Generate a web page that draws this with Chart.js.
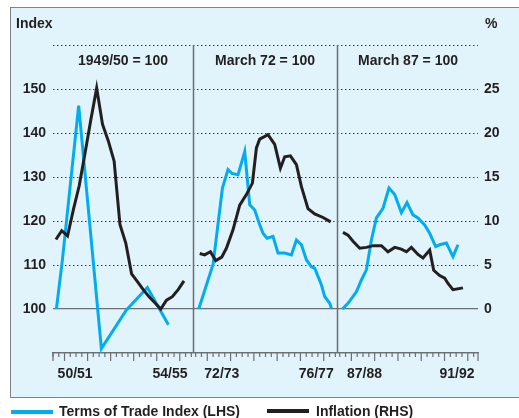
<!DOCTYPE html>
<html>
<head>
<meta charset="utf-8">
<script src="https://cdn.jsdelivr.net/npm/chart.js@4.4.1/dist/chart.umd.min.js"></script>
<style>
	html, body { margin: 0; padding: 0; background: #fff; overflow: hidden; }
	body { width: 100%; height: 418px; position: relative; font: bold 14px "Liberation Sans", Arial, sans-serif; color: #231f20; }
	#frame { position: absolute; left: 10px; top: 7px; width: 700px; height: 391px; box-sizing: border-box; background: #e1f3fb; border-top: 1.5px solid #808285; border-left: 1.5px solid #808285; border-bottom: 1.5px solid #808285; }
	#chart { position: absolute; left: 0; top: 0; }
	.txt { position: absolute; line-height: 16px; white-space: nowrap; }
	.head { width: 150px; text-align: center; }
	.key { position: absolute; width: 42px; height: 4px; }
</style>
</head>
<body>
<div id="frame"></div>
<canvas id="chart" width="519" height="418"></canvas>
<div class="txt" style="left:16px;top:15px">Index</div>
<div class="txt" style="left:485px;top:15px">%</div>
<div class="txt head" style="left:48px;top:52px">1949/50 = 100</div>
<div class="txt head" style="left:190px;top:52px">March 72 = 100</div>
<div class="txt head" style="left:333px;top:52px">March 87 = 100</div>
<div class="key" style="left:11px;top:410px;background:#00aeef"></div>
<div class="txt" style="left:59px;top:403px">Terms of Trade Index (LHS)</div>
<div class="key" style="left:267px;top:409px;background:#231f20"></div>
<div class="txt" style="left:316px;top:403px">Inflation (RHS)</div>
<script>
'use strict';

/*================ Data ================*/

// x positions are quarters along the broken time axis (3 panels of ~24 quarters)

// Panel 1: 1949/50 = 100
var tradeQ1 = [0.58, 1.6, 4.41, 8.31, 12.61, 16.21, 19.82];
var trade1 = [100, 111, 146.2, 91.0, 99.8, 104.9, 96.4];
var inflQ1 = [0.5, 1.5, 2.5, 3.5, 4.5, 5.5, 6.5, 7.5, 8.5, 9.5, 10.5, 11.5, 12.5, 13.5, 14.5, 15.5, 16.5, 17.5, 18.5, 19.5, 20.5, 21.5, 22.5];
var infl1 = [7.9, 8.9, 8.3, 11.3, 14.0, 17.7, 21.5, 25.1, 21.0, 19.1, 16.8, 9.6, 7.5, 4.0, 3.1, 2.2, 1.4, 0.7, 0.0, 1.0, 1.4, 2.2, 3.2];

// Panel 2: March 72 = 100
var tradeQ2 = [25.03, 27.5, 29.1, 30.06, 30.75, 31.78, 32.93, 33.79, 34.65, 35.38, 36.07, 36.76, 37.79, 38.65, 39.8, 40.95, 41.81, 42.67, 43.52, 44.38, 44.95, 46.1, 46.67, 47.53, 47.82];
var trade2 = [100, 110.2, 127.5, 131.7, 130.8, 130.5, 135.8, 123.7, 122.5, 119.6, 117.2, 116.1, 116.5, 112.7, 112.7, 112.3, 115.7, 114.6, 111.2, 109.6, 109.3, 105.5, 102.8, 101.3, 100.2];
var inflQ2 = [25.2, 26.05, 27.04, 27.95, 28.98, 29.78, 30.92, 32.07, 33.22, 34.25, 34.94, 35.5, 36.93, 38.08, 39.06, 39.8, 40.78, 41.81, 42.67, 43.8, 44.95, 46.38, 47.7];
var infl2 = [6.3, 6.15, 6.5, 5.5, 5.9, 6.9, 9.0, 11.8, 13.0, 14.3, 18.3, 19.3, 19.8, 18.7, 16.0, 17.3, 17.4, 16.4, 13.9, 11.4, 10.8, 10.4, 9.9];

// Panel 3: March 87 = 100
var tradeQ3 = [49.71, 50.67, 52.11, 52.97, 53.83, 54.69, 55.55, 56.68, 57.71, 58.69, 59.84, 60.8, 61.83, 62.69, 63.84, 64.7, 65.73, 66.42, 67.57, 68.7, 69.56];
var trade3 = [100, 101.3, 103.9, 106.6, 108.9, 115.7, 120.7, 122.9, 127.5, 126.0, 121.9, 124.2, 121.4, 120.7, 119.1, 117.2, 114.2, 114.6, 115.0, 111.9, 114.6];
var inflQ3 = [49.81, 50.67, 51.53, 52.68, 53.83, 54.96, 56.41, 57.54, 58.69, 59.84, 60.7, 61.56, 62.69, 63.55, 64.7, 65.39, 66.42, 67.28, 67.85, 68.7, 70.42];
var infl3 = [8.7, 8.4, 7.7, 6.9, 7.0, 7.2, 7.2, 6.5, 7.0, 6.8, 6.5, 7.0, 6.2, 5.8, 6.7, 4.4, 3.8, 3.5, 2.9, 2.2, 2.4];

// Year labels under the axis and where they sit (in quarters)
var yearLabels = ['50/51', '54/55', '72/73', '76/77', '87/88', '91/92'];
var yearLabelQ = [3.8, 20.1, 29.0, 45.2, 53.5, 69.4];

// Panel breaks (quarters)
var panelBreaks = [24.1, 48.7];

var leftTicks = [100, 110, 120, 130, 140, 150];
var rightTicks = [0, 5, 10, 15, 20, 25];

/*================ Helpers ================*/

function joinPanels(parts) {
	var pts = [];
	parts.forEach(function(p, i) {
		if (i > 0) {
			pts.push({ x: p[0][0] - 0.05, y: null });
		}
		p[0].forEach(function(q, j) {
			pts.push({ x: q, y: p[1][j] });
		});
	});
	return pts;
}

var GREY = '#6d6e71';
var INK = '#231f20';
var FONT = { family: '"Liberation Sans", Arial, sans-serif', size: 14, weight: 'bold' };

// Quarter tick marks under the axis, one run per panel
var tickRuns = [
	{ start: 0, step: 0.99, count: 25 },
	{ start: 24.5, step: 1, count: 25 },
	{ start: 49.25, step: 1, count: 24 }
];

var panelPlugin = {
	id: 'panelFurniture',
	beforeDatasetsDraw: function(chart) {
		var ctx = chart.ctx;
		var area = chart.chartArea;
		var x = chart.scales.x;
		ctx.save();
		ctx.strokeStyle = GREY;
		ctx.lineWidth = 1.5;
		panelBreaks.forEach(function(b) {
			var px = Math.round(x.getPixelForValue(b)) + 0.5;
			ctx.beginPath();
			ctx.moveTo(px, area.top);
			ctx.lineTo(px, area.bottom);
			ctx.stroke();
		});
		ctx.restore();
	},
	afterDraw: function(chart) {
		var ctx = chart.ctx;
		var area = chart.chartArea;
		var x = chart.scales.x;
		ctx.save();
		ctx.strokeStyle = GREY;
		ctx.lineWidth = 1.2;
		function tick(q, len) {
			var px = x.getPixelForValue(q);
			ctx.beginPath();
			ctx.moveTo(px, area.bottom);
			ctx.lineTo(px, area.bottom + len);
			ctx.stroke();
		}
		tickRuns.forEach(function(run) {
			for (var k = 0; k < run.count; k++) {
				tick(run.start + k * run.step, k % 4 === 2 ? 8 : 4);
			}
		});
		tick(0, 8);
		tick(73, 8);
		ctx.restore();
	}
};

/*================ Chart ================*/

var data = {
	datasets: [ {
		label: 'Terms of Trade Index (LHS)',
		data: joinPanels([ [tradeQ1, trade1], [tradeQ2, trade2], [tradeQ3, trade3] ]),
		borderColor: '#00aeef',
		borderWidth: 3,
		pointRadius: 0,
		tension: 0,
		yAxisID: 'y',
		order: 1
	}, {
		label: 'Inflation (RHS)',
		data: joinPanels([ [inflQ1, infl1], [inflQ2, infl2], [inflQ3, infl3] ]),
		borderColor: INK,
		borderWidth: 3,
		pointRadius: 0,
		tension: 0,
		yAxisID: 'y2',
		order: 0
	} ]
};

var options = {
	responsive: false,
	animation: false,
	devicePixelRatio: 1,
	layout: {
		padding: { top: 45, left: 0, right: 0, bottom: 0 }
	},
	elements: {
		line: { borderJoinStyle: 'miter', borderCapStyle: 'butt' }
	},
	scales: {
		x: {
			type: 'linear',
			min: 0,
			max: 73,
			afterFit: function(scale) { scale.height = 65; },
			afterBuildTicks: function(scale) {
				scale.ticks = yearLabelQ.map(function(q) { return { value: q }; });
			},
			grid: { display: false },
			border: { display: true, color: GREY, width: 1.2 },
			ticks: {
				autoSkip: false,
				maxRotation: 0,
				padding: 5,
				color: INK,
				font: FONT,
				callback: function(value, index) { return yearLabels[index]; }
			}
		},
		y: {
			position: 'left',
			min: 90,
			max: 160,
			afterFit: function(scale) { scale.width = 53; },
			afterBuildTicks: function(scale) {
				scale.ticks = [90].concat(leftTicks, [160]).map(function(v) { return { value: v }; });
			},
			grid: {
				drawTicks: false,
				color: function(c) { return c.tick && c.tick.value > 100 ? '#3a3a3a' : GREY; },
				lineWidth: function(c) { return c.tick && c.tick.value > 100 ? 1 : 1.2; }
			},
			border: {
				display: false,
				dash: function(c) { return c.tick && c.tick.value > 100 ? [1.5, 2.5] : []; }
			},
			ticks: {
				padding: 7,
				color: INK,
				font: FONT,
				callback: function(v) { return leftTicks.indexOf(v) >= 0 ? v : ''; }
			}
		},
		y2: {
			position: 'right',
			min: -5,
			max: 30,
			afterFit: function(scale) { scale.width = 41; },
			afterBuildTicks: function(scale) {
				scale.ticks = rightTicks.map(function(v) { return { value: v }; });
			},
			grid: { display: false, drawTicks: false },
			border: { display: false },
			ticks: {
				padding: 6,
				color: INK,
				font: FONT
			}
		}
	},
	plugins: {
		legend: { display: false },
		tooltip: { enabled: false }
	}
};

new Chart(document.getElementById('chart'), {
	type: 'line',
	data: data,
	options: options,
	plugins: [ panelPlugin ]
});
</script>
</body>
</html>
